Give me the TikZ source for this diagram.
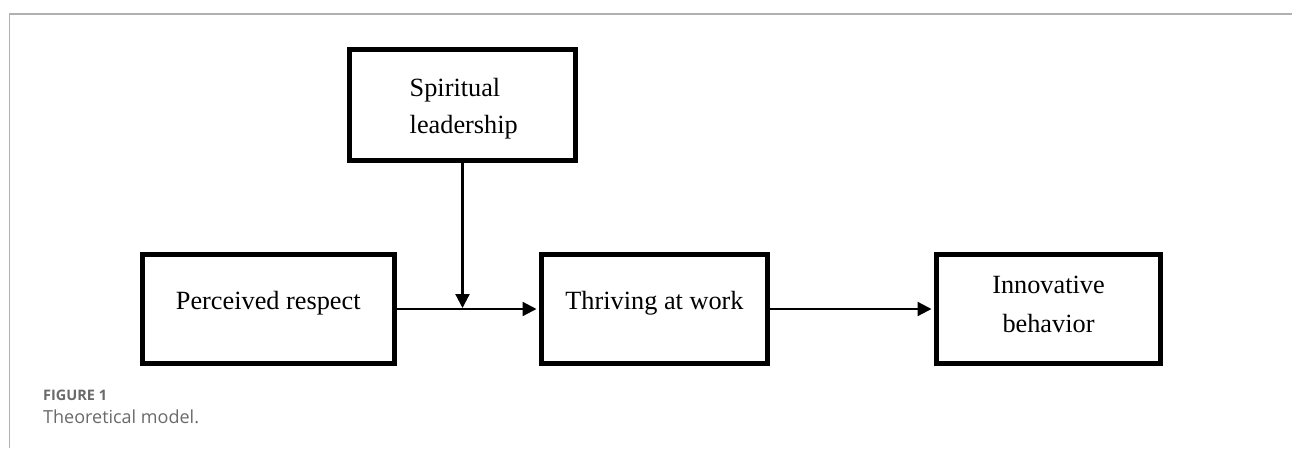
\documentclass[tikz,border=0pt]{standalone}
\usepackage{fontspec}
\setmainfont{Liberation Serif}
\newfontfamily\capfont{Open Sans}
\usetikzlibrary{arrows.meta}
\definecolor{framegray}{HTML}{B0B0B0}
\definecolor{capgray}{HTML}{6A6A6A}
\tikzset{
  box/.style={draw=black, line width=5pt, rectangle, inner sep=0pt, minimum width=#1},
  box/.default=226pt,
  lbl/.style={font=\fontsize{26.3}{30}\selectfont, inner sep=0pt, anchor=base},
  conn/.style={line width=2.2pt, -{Triangle[length=14pt,width=14pt]}},
  capa/.style={font=\capfont\bfseries\fontsize{14.5}{16}\selectfont, text=capgray, inner sep=0pt, anchor=base west},
  capb/.style={font=\capfont\fontsize{18}{20}\selectfont, text=capgray, inner sep=0pt, anchor=base west},
}
\begin{document}
\begin{tikzpicture}[x=1pt,y=-1pt]
\useasboundingbox (0,0) rectangle (1292,448);
\fill[white] (0,0) rectangle (1292,448);
% frame
\coordinate (ftl) at (9.5,14);
\coordinate (ftr) at (1292,14);
\coordinate (fbl) at (9.5,448);
\draw[framegray, line width=1.8pt] (ftr) -- (ftl) -- (fbl);
% boxes
\node[box=226pt, minimum height=111pt] (sp) at (462.5,105) {};
\node[box=252.5pt, minimum height=109pt] (pr) at (268.25,309) {};
\node[box=226pt, minimum height=109pt] (th) at (654.5,309) {};
\node[box=224pt, minimum height=109pt] (in) at (1048.5,309) {};
% labels
\node[lbl, anchor=base west] (sp1) at (409.5,96) {Spiritual};
\node[lbl, anchor=base west] (sp2) at (409.5,133) {leadership};
\node[lbl] (prl) at (268.25,309) {Perceived respect};
\node[lbl] (thl) at (654.5,309) {Thriving at work};
\node[lbl] (in1) at (1048.5,293) {Innovative};
\node[lbl] (in2) at (1048.5,332) {behavior};
% connectors
\coordinate (mod) at (462.5,308);
\draw[conn, shorten >=2.5pt] (pr.east) -- (th.west);
\draw[conn] (sp.south) -- (mod);
\draw[conn, shorten >=2.5pt] (th.east) -- (in.west);
% caption
\node[capa] (cap1) at (43,400) {FIGURE 1};
\node[capb] (cap2) at (43,423) {Theoretical model.};
\end{tikzpicture}
\end{document}
